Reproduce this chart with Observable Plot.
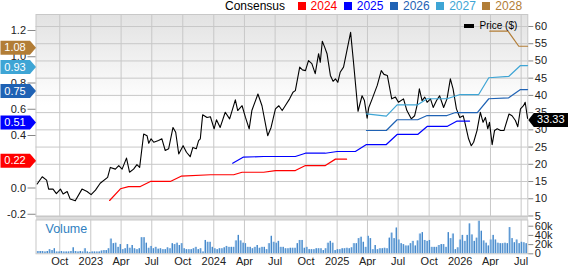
<!DOCTYPE html>
<html>
<head>
<meta charset="utf-8">
<script src="https://cdn.jsdelivr.net/npm/d3@7"></script>
<script src="https://cdn.jsdelivr.net/npm/@observablehq/plot@0.6"></script>
<style>
  body { margin: 0; background: #fff; }
  #chart { position: relative; width: 568px; height: 266px; overflow: hidden; font-family: "Liberation Sans", Arial, sans-serif; }
  #chart svg { position: absolute; left: 0; top: 0; }
  .bg { position: absolute; left: 35.5px; top: 14px; width: 492px; height: 202px; background: linear-gradient(#e2e2e2 0%, #ffffff 45%, #ffffff 100%); }
  .strip { position: absolute; left: 35.5px; top: 216px; width: 492px; height: 3.5px; background: #dcdcdc; }
  .legend { position: absolute; left: 225px; top: 0; font-size: 12px; line-height: 12px; white-space: nowrap; display: flex; align-items: center; }
  .legend .sw { display: inline-block; width: 8px; height: 7.5px; margin-right: 5px; }
  .legend .lab { margin-right: 6.5px; }
  .plegend { position: absolute; left: 464px; top: 21px; font-size: 10px; line-height: 10px; white-space: nowrap; }
  .plegend .sw { position: absolute; left: 0; top: 2.5px; width: 10px; height: 4px; background: #000; }
  .plegend .lab { position: absolute; left: 15.5px; top: 0; }
</style>
</head>
<body>
<div id="chart">
  <div class="bg"></div>
  <div class="strip"></div>
</div>
<script>
// ---------------- data ----------------
const priceDates = [
"2022-07-26","2022-08-10","2022-08-23","2022-08-29","2022-09-11","2022-09-21","2022-10-03","2022-10-11","2022-10-23","2022-11-01",
"2022-11-16","2022-12-06","2022-12-21","2023-01-02","2023-01-15","2023-01-29","2023-02-20","2023-02-28","2023-03-15","2023-03-25",
"2023-04-04","2023-04-17","2023-04-26","2023-05-08","2023-05-18","2023-05-26","2023-06-07","2023-06-17","2023-06-22","2023-06-29",
"2023-07-07","2023-07-21","2023-07-31","2023-08-10","2023-08-20","2023-09-02","2023-09-10","2023-09-19","2023-10-02","2023-10-12",
"2023-10-23","2023-10-31","2023-11-10","2023-11-17","2023-11-22","2023-11-29","2023-12-12","2023-12-22","2024-01-02","2024-01-09",
"2024-01-20","2024-02-04","2024-02-17","2024-03-05","2024-03-12","2024-03-25","2024-04-04","2024-04-15","2024-04-23","2024-05-11",
"2024-05-23","2024-06-09","2024-06-19","2024-07-02","2024-07-12","2024-07-22","2024-07-31","2024-08-13","2024-08-23","2024-08-30",
"2024-09-12","2024-09-20","2024-09-29","2024-10-08","2024-10-18","2024-10-28","2024-11-07","2024-11-12","2024-11-18","2024-11-25",
"2024-12-02","2024-12-12","2024-12-20","2024-12-27","2025-01-03","2025-01-10","2025-01-20","2025-01-30","2025-02-10","2025-02-19",
"2025-03-04","2025-03-16","2025-03-23","2025-03-31","2025-04-05","2025-04-15","2025-04-30","2025-05-12","2025-05-20","2025-05-30",
"2025-06-12","2025-06-23","2025-07-02","2025-07-17","2025-07-27","2025-08-09","2025-08-19","2025-08-26","2025-09-02","2025-09-10",
"2025-09-18","2025-09-25","2025-10-05","2025-10-13","2025-10-23","2025-11-01","2025-11-13","2025-11-23","2025-12-03","2025-12-11",
"2025-12-21","2025-12-31","2026-01-10","2026-01-16","2026-01-26","2026-02-03","2026-02-10","2026-02-20","2026-03-02","2026-03-10",
"2026-03-17","2026-03-24","2026-03-29","2026-04-06","2026-04-13","2026-04-21","2026-05-01","2026-05-11","2026-05-26","2026-06-04",
"2026-06-14","2026-06-21","2026-06-29","2026-07-08","2026-07-13","2026-07-20"];
const priceValues = [
14.3,16.4,15.4,12.8,12.8,11.5,12.8,11.4,12.1,9.9,
9.4,12.8,12.1,11.2,12.5,14.5,16.2,19.1,18.6,19.6,
18.6,21.8,17.7,18.6,19.9,19.1,28.8,28.3,26.1,27.4,
26.4,26.9,27.4,24.0,24.5,30.7,29.3,23.0,25.4,23.5,
22.2,24.9,24.5,26.9,27.4,34.4,33.6,33.8,30.3,32.9,
30.7,35.1,33.2,38.7,35.6,37.0,33.6,30.3,35.6,40.4,
37.0,28.3,30.7,36.1,37.0,35.6,37.0,39.0,40.9,41.4,
48.2,47.4,47.2,50.1,49.2,46.3,52.1,49.6,55.7,54.0,
52.1,45.8,44.1,44.8,43.8,46.7,48.2,53.0,58.3,49.2,
35.4,39.9,38.5,33.4,36.5,39.0,42.9,47.2,46.1,45.8,
39.0,39.5,38.0,39.0,35.6,33.2,34.1,37.0,41.9,38.5,
39.5,38.0,39.0,36.5,38.5,39.9,36.5,39.0,44.8,41.9,
36.1,33.6,34.1,31.7,27.4,25.4,26.4,29.8,35.1,32.2,
33.6,30.3,32.2,25.7,29.8,30.3,29.8,29.8,34.6,34.1,
32.7,30.9,36.1,37.0,38.0,33.33];

const consensusYears = ["2024", "2025", "2026", "2027", "2028"];
const eps2024Dates = ["2023-02-26","2023-03-30","2023-04-23","2023-05-28","2023-06-27","2023-08-25","2023-09-26","2023-12-22","2024-02-29","2024-03-25","2024-05-28","2024-07-02","2024-08-30","2024-09-29","2024-11-27","2024-12-27","2025-01-29"];
const eps2024Values = [-0.095,-0.006,0.011,0.011,0.05,0.05,0.09,0.101,0.101,0.12,0.12,0.133,0.133,0.171,0.171,0.22,0.22];
const eps2025Dates = ["2024-02-26","2024-03-28","2024-05-28","2024-08-30","2024-09-29","2024-11-27","2025-01-01","2025-02-24","2025-03-29","2025-05-27","2025-06-28","2025-08-28","2025-09-25","2025-11-23","2025-12-23","2026-01-29"];
const eps2025Values = [0.189,0.235,0.24,0.24,0.265,0.265,0.278,0.278,0.331,0.331,0.408,0.408,0.469,0.469,0.51,0.51];
const eps2026Dates = ["2025-03-29","2025-05-27","2025-06-28","2025-08-28","2025-09-25","2025-11-23","2025-12-18","2026-02-21","2026-03-27","2026-05-25","2026-06-29","2026-07-20"];
const eps2026Values = [0.438,0.438,0.52,0.52,0.552,0.552,0.575,0.575,0.68,0.687,0.75,0.75];
const eps2027Dates = ["2025-03-29","2025-05-27","2025-06-28","2025-08-28","2025-09-25","2025-11-23","2026-01-01","2026-02-25","2026-03-27","2026-05-25","2026-06-29","2026-07-20"];
const eps2027Values = [0.565,0.547,0.634,0.634,0.68,0.68,0.712,0.712,0.84,0.85,0.933,0.933];
const eps2028Dates = ["2026-03-30","2026-05-23","2026-06-24","2026-07-20"];
const eps2028Values = [1.195,1.195,1.08,1.08];

// weekly volume (thousands), first week starting 2022-07-25
const volumeStart = "2022-07-25";
const volumeK = [
5,5,5,4,5,9,7,11,4,4,
5,4,4,4,5,13,5,4,5,4,
11,4,3,4,4,4,4,6,7,7,
11,32,22,23,14,20,9,11,20,12,
18,11,9,11,35,35,23,12,16,11,
14,10,11,9,9,13,11,22,20,23,
18,22,11,9,9,9,11,14,9,11,
4,29,25,25,14,11,9,11,11,13,
16,14,14,14,28,40,28,23,22,14,
14,11,14,18,12,14,14,9,22,38,
25,23,27,14,14,11,11,12,12,12,
22,29,29,12,14,9,9,9,11,11,
11,7,11,23,27,23,7,9,9,11,
11,12,11,13,22,22,33,36,25,14,
38,33,9,18,9,11,11,12,11,34,
45,33,56,30,22,20,17,17,22,27,
17,28,43,46,29,27,29,14,14,14,
18,20,20,14,46,33,43,9,13,30,
40,27,40,65,41,27,34,71,49,28,
23,17,30,40,30,23,22,22,23,22,
57,33,24,30,22,25,24,22];

const xTickDates = ["2022-10-01","2023-01-01","2023-04-01","2023-07-01","2023-10-01","2024-01-01","2024-04-01","2024-07-01","2024-10-01","2025-01-01","2025-04-01","2025-07-01","2025-10-01","2026-01-01","2026-04-01","2026-07-01"];
const xTickLabels = ["Oct","2023","Apr","Jul","Oct","2024","Apr","Jul","Oct","2025","Apr","Jul","Oct","2026","Apr","Jul"];
const priceTicks = [5,10,15,20,25,30,35,40,45,50,55,60];
const epsTicks = [-0.2,0,0.2,0.4,0.6,0.8,1.0,1.2];
const volumeTicks = [0,20,40,60];

// ---------------- styles ----------------
const consensusColors = ["#ff0000", "#0000ff", "#1f62b4", "#3ea5d5", "#b27d36"];
const gridColor = "#c8c8c8";
const font = "'Liberation Sans', Arial, sans-serif";

// ---------------- build ----------------
const W = 568, H = 266, ML = 35.5, MR = 568 - 527.3;
const xDomain = [new Date("2022-07-22T12:00:00Z"), new Date("2026-07-20T18:00:00Z")];
const tickDates = xTickDates.map(d => new Date(d));
const labelMap = new Map(tickDates.map((d, i) => [+d, xTickLabels[i]]));

const price = priceDates.map((d, i) => ({date: new Date(d), price: priceValues[i]}));
const epsDates = [eps2024Dates, eps2025Dates, eps2026Dates, eps2027Dates, eps2028Dates];
const epsValues = [eps2024Values, eps2025Values, eps2026Values, eps2027Values, eps2028Values];
const consensus = consensusYears.map((year, k) => ({
  year, color: consensusColors[k],
  data: epsDates[k].map((d, i) => ({date: new Date(d), v: epsValues[k][i]}))
}));
const day = 864e5;
const vol = volumeK.map((v, i) => {
  const start = new Date(+new Date(volumeStart) + i * 7 * day);
  return {start, mid: new Date(+start + 3.5 * day), end: new Date(+start + 7 * day), v};
});

const leftBadge = {draw(c) { c.moveTo(-35.5, -7); c.lineTo(-6, -7); c.lineTo(0, 0); c.lineTo(-6, 7); c.lineTo(-35.5, 7); c.closePath(); }};
const rightBadge = {draw(c) { c.moveTo(0.5, 0); c.lineTo(6, -7); c.lineTo(42, -7); c.lineTo(42, 7); c.lineTo(6, 7); c.closePath(); }};

const baseStyle = {background: "transparent", fontFamily: font, fontSize: "11px", overflow: "visible"};

// volume panel
const volPlot = Plot.plot({
  width: W, height: H, marginLeft: ML, marginRight: MR, marginTop: 219.5, marginBottom: 12.7,
  style: baseStyle,
  x: {type: "utc", domain: xDomain, axis: null},
  y: {domain: [0, 73.5], axis: null},
  marks: [
    Plot.gridX(tickDates, {stroke: gridColor, strokeOpacity: 1}),
    Plot.rect(vol, {x1: "start", x2: "end", y1: 0, y2: "v", fill: "#9fc6ea", insetLeft: 0.25, insetRight: 0.25}),
    Plot.rect(vol, {x1: "mid", x2: "end", y1: 0, y2: "v", fill: "#3f83c7", insetRight: 0.25}),
    Plot.frame({stroke: gridColor}),
    Plot.axisY(volumeTicks, {anchor: "right", tickSize: 5, tickPadding: 2, stroke: "#888", fill: "#222", label: null, tickFormat: d => d ? d + "k" : "0"}),
    Plot.axisX(tickDates, {anchor: "bottom", tickSize: 0, tickPadding: 3, fill: "#222", label: null, tickFormat: d => labelMap.get(+d)}),
    Plot.text(["Volume"], {frameAnchor: "top-left", lineAnchor: "top", textAnchor: "start", dx: 9.5, dy: 4, fill: "#2f7fc1", fontSize: 12.5})
  ]
});

// price panel
const lastP = price[price.length - 1];
const mainPlot = Plot.plot({
  width: W, height: H, marginLeft: ML, marginRight: MR, marginTop: 14, marginBottom: 50,
  style: baseStyle,
  x: {type: "utc", domain: xDomain, axis: null},
  y: {domain: [4.85, 63.48], axis: null},
  marks: [
    Plot.gridY(priceTicks, {stroke: gridColor, strokeOpacity: 1}),
    Plot.gridX(tickDates, {stroke: gridColor, strokeOpacity: 1}),
    Plot.frame({stroke: gridColor}),
    Plot.axisY(priceTicks, {anchor: "right", tickSize: 5, tickPadding: 2, stroke: "#888", fill: "#222", label: null}),
    Plot.line(price, {x: "date", y: "price", stroke: "#000", strokeWidth: 1.1}),
    Plot.dot([{date: xDomain[1], price: lastP.price}], {x: "date", y: "price", symbol: rightBadge, fill: "#000", stroke: "none", dy: 1.5}),
    Plot.text([{date: xDomain[1], price: lastP.price}], {x: "date", y: "price", text: d => d.price.toFixed(2), dx: 23, dy: 1.5, fill: "#fff", fontSize: 11})
  ]
});

// consensus (EPS) overlay
const badges = consensus.map(s => ({date: xDomain[0], v: s.data[s.data.length - 1].v, color: s.color}));
const epsPlot = Plot.plot({
  width: W, height: H, marginLeft: ML, marginRight: MR, marginTop: 14, marginBottom: 50,
  style: baseStyle,
  x: {type: "utc", domain: xDomain, axis: null},
  y: {domain: [-0.2171, 1.3219], axis: null},
  marks: [
    Plot.axisY(epsTicks, {anchor: "left", tickSize: 8, tickPadding: 2, stroke: "#888", fill: "#222", label: null, tickFormat: d => d.toFixed(1)}),
    ...consensus.map(s => Plot.line(s.data, {x: "date", y: "v", stroke: s.color, strokeWidth: 1.2})),
    Plot.dot(badges, {x: "date", y: "v", symbol: leftBadge, fill: d => d.color, stroke: "none", dy: 1.5}),
    Plot.text(badges, {x: "date", y: "v", text: d => d.v.toFixed(2), dx: -21, dy: 1.5, fill: "#fff", fontSize: 11})
  ]
});

const chart = document.getElementById("chart");
chart.appendChild(volPlot);
chart.appendChild(mainPlot);
chart.appendChild(epsPlot);

// consensus legend (top)
const leg = document.createElement("div");
leg.className = "legend";
const cons = document.createElement("span");
cons.textContent = "Consensus";
cons.style.marginRight = "12.5px";
leg.appendChild(cons);
consensus.forEach(s => {
  const sw = document.createElement("span"); sw.className = "sw"; sw.style.background = s.color;
  const lab = document.createElement("span"); lab.className = "lab"; lab.style.color = s.color; lab.textContent = s.year;
  leg.appendChild(sw); leg.appendChild(lab);
});
chart.appendChild(leg);

// price legend
const pl = document.createElement("div");
pl.className = "plegend";
pl.innerHTML = '<span class="sw"></span><span class="lab">Price ($)</span>';
chart.appendChild(pl);
</script>
</body>
</html>
